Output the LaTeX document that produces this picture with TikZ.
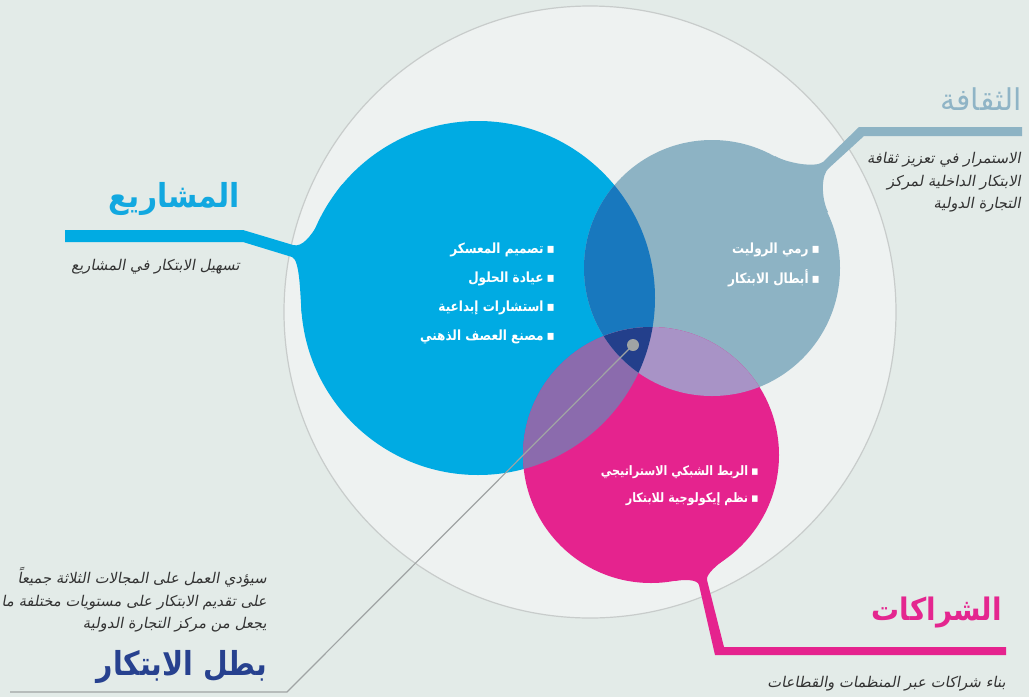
\documentclass[tikz,border=0pt]{standalone}
\usepackage{fontspec}
\TeXXeTstate=1
\newfontfamily\ar[Script=Arabic]{DejaVu Sans}
\newfontfamily\arsl[Script=Arabic,FakeSlant=0.18]{DejaVu Sans}
\definecolor{bg}{HTML}{E3EBE8}
\definecolor{bigc}{HTML}{EEF2F1}
\definecolor{bigline}{HTML}{C8CCCB}
\definecolor{cblue}{HTML}{00ABE3}
\definecolor{cgray}{HTML}{8DB3C4}
\definecolor{cpink}{HTML}{E5238E}
\definecolor{cbc}{HTML}{1878BE}
\definecolor{cbp}{HTML}{8B6BAD}
\definecolor{ccp}{HTML}{A893C6}
\definecolor{ctri}{HTML}{233F8B}
\definecolor{hblue}{HTML}{12A8E0}
\definecolor{hgray}{HTML}{8FB4C6}
\definecolor{hpink}{HTML}{E4268F}
\definecolor{hnavy}{HTML}{27418F}
\definecolor{desc}{HTML}{333333}
\definecolor{ptr}{HTML}{A0A4A4}
\newcommand{\bitem}[1]{\scalebox{0.86}[1]{\beginR ▪\kern3.5pt #1\endR}}
\begin{document}
\begin{tikzpicture}[x=1pt,y=-1pt,
  heading/.style={anchor=base east, inner sep=0pt, font=\ar\bfseries\fontsize{30}{36}\selectfont},
  desctext/.style={anchor=base east, inner sep=0pt, text=desc, font=\arsl\fontsize{14.8}{18}\selectfont},
  bul/.style={anchor=base east, inner sep=0pt, text=white, font=\ar\bfseries\fontsize{14}{17}\selectfont},
  bulsm/.style={bul, font=\ar\bfseries\fontsize{13}{16}\selectfont},
  ptrline/.style={draw=ptr, line width=1.2pt}]
\useasboundingbox (0,0) rectangle (1029,697);
\fill[bg] (0,0) rectangle (1029,697);
\filldraw[fill=bigc, draw=bigline, line width=1.2pt] (590,312) circle[radius=306pt];
% tails
\fill[cblue] (65,230) -- (243,230) -- (293,245) .. controls (311,250) and (326,203) .. (342.4,184.2) -- (478,298) -- (301.7,313.4) .. controls (300,293.4) and (300,260) .. (292,257) -- (243,242) -- (65,242) -- cycle;
\fill[cgray] (1022,127) -- (1022,136) -- (864,136) -- (829,168) .. controls (821,174) and (821,198) .. (828,212) -- (712,268) -- (775,156) .. controls (787,163) and (815,168) .. (823,162) -- (859,127) -- cycle;
\fill[cpink] (675,581) .. controls (683,579.5) and (697.6,579) .. (699,585) -- (715,655) -- (1006,655) -- (1006,647) -- (724,647) -- (707,580) .. controls (705.6,574) and (718.5,564) .. (725,559) -- (651,455) -- cycle;
% circles
\fill[cblue] (478,298) circle[radius=177pt];
\fill[cgray] (712,268) circle[radius=128pt];
\fill[cpink] (651,455) circle[radius=128pt];
\begin{scope}
  \clip (478,298) circle[radius=177pt];
  \fill[cbc] (712,268) circle[radius=128pt];
  \fill[cbp] (651,455) circle[radius=128pt];
\end{scope}
\begin{scope}
  \clip (712,268) circle[radius=128pt];
  \fill[ccp] (651,455) circle[radius=128pt];
\end{scope}
\begin{scope}
  \clip (478,298) circle[radius=177pt];
  \clip (712,268) circle[radius=128pt];
  \fill[ctri] (651,455) circle[radius=128pt];
\end{scope}
% headings
\node[heading, text=hblue, font=\ar\bfseries\fontsize{33}{40}\selectfont] (hproj) at (240,207) {\scalebox{0.9}[1]{\beginR المشاريع\endR}};
\node[desctext] (dproj) at (240,270) {\beginR تسهيل الابتكار في المشاريع\endR};
\node[heading, text=hgray, font=\ar\fontsize{30}{36}\selectfont] (hcult) at (1022,110) {\beginR الثقافة\endR};
\node[desctext] (dcult1) at (1021,163) {\beginR الاستمرار في تعزيز ثقافة\endR};
\node[desctext] (dcult2) at (1021,186) {\beginR الابتكار الداخلية لمركز\endR};
\node[desctext] (dcult3) at (1021,208) {\beginR التجارة الدولية\endR};
\node[heading, text=hpink, font=\ar\bfseries\fontsize{31}{38}\selectfont] (hpart) at (1002,620) {\scalebox{0.9}[1]{\beginR الشراكات\endR}};
\node[desctext] (dpart) at (1006,687) {\beginR بناء شراكات عبر المنظمات والقطاعات\endR};
\node[desctext] (dhero1) at (267,583) {\beginR سيؤدي العمل على المجالات الثلاثة جميعاً\endR};
\node[desctext] (dhero2) at (267,606) {\beginR على تقديم الابتكار على مستويات مختلفة ما\endR};
\node[desctext] (dhero3) at (267,628) {\beginR يجعل من مركز التجارة الدولية\endR};
\node[heading, text=hnavy, font=\ar\bfseries\fontsize{33}{40}\selectfont] (hhero) at (267,675) {\scalebox{0.86}[1]{\beginR بطل الابتكار\endR}};
% bullets
\node[bul] (b1) at (555,253) {\bitem{تصميم المعسكر}};
\node[bul] (b2) at (555,282) {\bitem{عيادة الحلول}};
\node[bul] (b3) at (555,311) {\bitem{استشارات إبداعية}};
\node[bul] (b4) at (555,340) {\bitem{مصنع العصف الذهني}};
\node[bul] (b5) at (820,253) {\bitem{رمي الروليت}};
\node[bul] (b6) at (820,283) {\bitem{أبطال الابتكار}};
\node[bulsm] (b7) at (759,475) {\bitem{الربط الشبكي الاستراتيجي}};
\node[bulsm] (b8) at (759,502) {\bitem{نظم إيكولوجية للابتكار}};
% pointer
\coordinate (p0) at (10,692);
\coordinate (p1) at (287,692);
\node[circle, fill=ptr, minimum size=12pt, inner sep=0pt] (dot) at (633,345) {};
\draw[ptrline] (p0) -- (p1) -- (dot.center);
\end{tikzpicture}
\end{document}
